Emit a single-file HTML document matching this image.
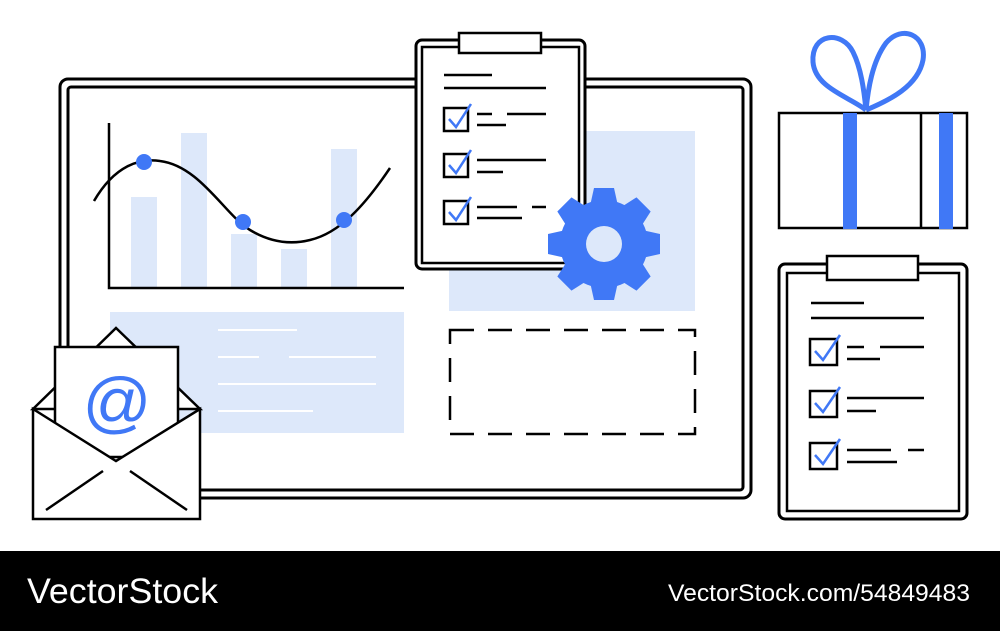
<!DOCTYPE html>
<html><head><style>
body{margin:0;width:1000px;height:631px;overflow:hidden;background:#fff;font-family:"Liberation Sans",sans-serif}
</style></head><body>
<svg width="1000" height="631" viewBox="0 0 1000 631" xmlns="http://www.w3.org/2000/svg">
<rect width="1000" height="631" fill="#fff"/>
<rect x="60" y="79" width="691" height="419" rx="8" fill="#fff" stroke="#000" stroke-width="3"/>
<rect x="68" y="87" width="675" height="403" rx="3" fill="none" stroke="#000" stroke-width="3"/>
<g fill="#dde8fa">
<rect x="131" y="197" width="26" height="91"/><rect x="181" y="133" width="26" height="155"/>
<rect x="231" y="234" width="26" height="54"/><rect x="281" y="249" width="26" height="39"/>
<rect x="331" y="149" width="26" height="139"/>
</g>
<path d="M109,123 V288 H404" fill="none" stroke="#000" stroke-width="2.5"/>
<path d="M94,201 C115,165 140,158 160,161 C200,166 225,215 250,230 C270,242 290,245 310,240 C340,233 365,205 390,168" fill="none" stroke="#000" stroke-width="2.5"/>
<g fill="#4078f6"><circle cx="144" cy="162" r="8"/><circle cx="243" cy="222" r="8"/><circle cx="344" cy="220" r="8"/></g>
<rect x="110" y="312" width="294" height="121" fill="#dde8fa"/>
<g stroke="#fff" stroke-width="2"><line x1="218" y1="330" x2="297" y2="330"/><line x1="218" y1="357" x2="259" y2="357"/><line x1="289" y1="357" x2="376" y2="357"/><line x1="218" y1="384" x2="376" y2="384"/><line x1="218" y1="411" x2="313" y2="411"/></g>
<rect x="449" y="131" width="246" height="180" fill="#dde8fa"/>
<rect x="450" y="330" width="245" height="104" fill="none" stroke="#000" stroke-width="2.5" stroke-dasharray="24,14"/>
<rect x="416" y="40" width="169" height="229" rx="6" fill="#fff" stroke="#000" stroke-width="3"/>
<rect x="422" y="47" width="157" height="216" fill="none" stroke="#000" stroke-width="2.5"/>
<rect x="459" y="33" width="82" height="20" fill="#fff" stroke="#000" stroke-width="2.5"/>
<g stroke="#000" stroke-width="2.5">
<line x1="444" y1="75" x2="492" y2="75"/><line x1="444" y1="88" x2="546" y2="88"/>
<line x1="477" y1="114" x2="492" y2="114"/><line x1="507" y1="114" x2="546" y2="114"/><line x1="477" y1="125" x2="506" y2="125"/>
<line x1="477" y1="160" x2="546" y2="160"/><line x1="477" y1="172" x2="503" y2="172"/>
<line x1="477" y1="207" x2="517" y2="207"/><line x1="532" y1="207" x2="546" y2="207"/><line x1="477" y1="218" x2="522" y2="218"/>
</g>
<g fill="none" stroke="#000" stroke-width="2.5"><rect x="444" y="108" width="24" height="23"/><rect x="444" y="154" width="24" height="23"/><rect x="444" y="201" width="24" height="23"/></g>
<g fill="none" stroke="#4078f6" stroke-width="2.5"><path d="M449,119 L456,127 L471,104"/><path d="M449,165 L456,173 L471,150"/><path d="M449,212 L456,220 L471,197"/></g>
<g fill="#4078f6" transform="translate(604,244)">
<circle r="44"/>
<path id="tt" d="M-10,-56 L10,-56 L14,-38 L-14,-38 Z"/>
<use href="#tt" transform="rotate(45)"/><use href="#tt" transform="rotate(90)"/><use href="#tt" transform="rotate(135)"/>
<use href="#tt" transform="rotate(180)"/><use href="#tt" transform="rotate(225)"/><use href="#tt" transform="rotate(270)"/><use href="#tt" transform="rotate(315)"/>
<circle r="18" fill="#dde8fa"/>
</g>
<path d="M33,409 L116,328 L200,409 Z" fill="#fff" stroke="#000" stroke-width="2.5"/>
<rect x="55" y="347" width="123" height="110" fill="#fff" stroke="#000" stroke-width="2.5"/>
<text x="117" y="425" font-size="68" fill="#4078f6" text-anchor="middle" font-family="Liberation Sans,sans-serif">@</text>
<path d="M33,409 L116,461 L200,409 V519 H33 Z" fill="#fff" stroke="#000" stroke-width="2.5"/>
<g stroke="#000" stroke-width="2.5"><line x1="46" y1="510" x2="103" y2="471"/><line x1="130" y1="471" x2="187" y2="510"/></g>
<g fill="none" stroke="#4078f6" stroke-width="5">
<path d="M866,110 C850,97 815,88 813,62 C811,33 842,30 853,52 C861,68 864,90 866,110"/>
<path d="M866,110 C868,90 872,62 886,43 C902,24 927,35 923,60 C918,86 890,100 866,110"/>
</g>
<rect x="779" y="113" width="188" height="115" fill="none" stroke="#000" stroke-width="2.5"/>
<line x1="921" y1="113" x2="921" y2="228" stroke="#000" stroke-width="2.5"/>
<rect x="843" y="113" width="14" height="116" fill="#4078f6"/>
<rect x="939" y="113" width="14" height="116" fill="#4078f6"/>
<rect x="779" y="264" width="188" height="255" rx="6" fill="#fff" stroke="#000" stroke-width="3"/>
<rect x="787" y="273" width="172" height="238" fill="none" stroke="#000" stroke-width="2.5"/>
<rect x="827" y="256" width="91" height="24" fill="#fff" stroke="#000" stroke-width="2.5"/>
<g stroke="#000" stroke-width="2.5">
<line x1="811" y1="303" x2="864" y2="303"/><line x1="811" y1="318" x2="924" y2="318"/>
<line x1="847" y1="347" x2="864" y2="347"/><line x1="880" y1="347" x2="924" y2="347"/><line x1="847" y1="359" x2="880" y2="359"/>
<line x1="847" y1="398" x2="924" y2="398"/><line x1="847" y1="411" x2="876" y2="411"/>
<line x1="847" y1="450" x2="891" y2="450"/><line x1="908" y1="450" x2="924" y2="450"/><line x1="847" y1="462" x2="897" y2="462"/>
</g>
<g fill="none" stroke="#000" stroke-width="2.5"><rect x="810" y="339" width="27" height="26"/><rect x="810" y="391" width="27" height="26"/><rect x="810" y="443" width="27" height="26"/></g>
<g fill="none" stroke="#4078f6" stroke-width="2.5"><path d="M815,351 L823,360 L840,335"/><path d="M815,403 L823,412 L840,387"/><path d="M815,455 L823,464 L840,439"/></g>
<rect x="0" y="551" width="1000" height="80" fill="#000"/>
<text x="27" y="603" font-size="35" fill="#fff" font-family="Liberation Sans,sans-serif" textLength="191" lengthAdjust="spacingAndGlyphs">VectorStock</text>
<text x="668" y="601" font-size="24" fill="#fff" font-family="Liberation Sans,sans-serif" textLength="302" lengthAdjust="spacingAndGlyphs">VectorStock.com/54849483</text>
</svg>
</body></html>
